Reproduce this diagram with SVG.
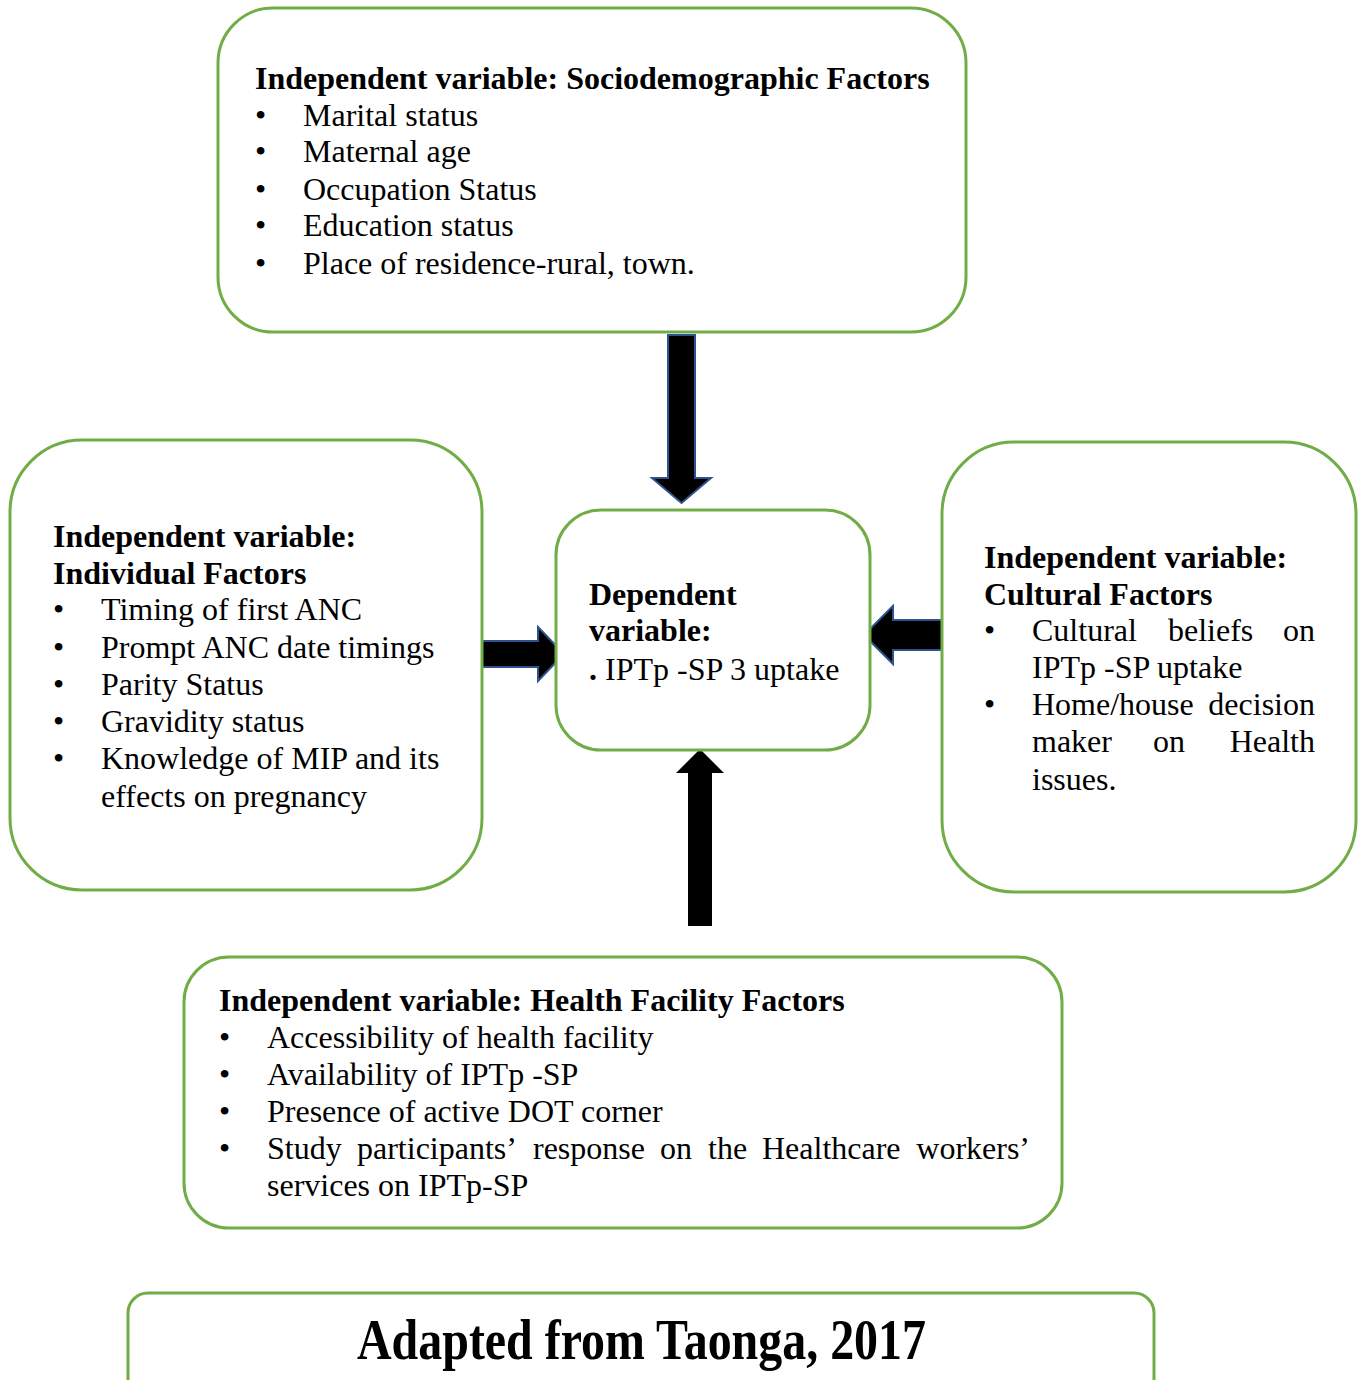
<svg xmlns="http://www.w3.org/2000/svg" width="1363" height="1380" viewBox="0 0 1363 1380">
<style>
.box{fill:#fff;stroke:#70AD47;stroke-width:3}
text{font-family:"Liberation Serif","Times New Roman",serif;font-size:32px;fill:#000}
.b{font-weight:bold}
.arr{fill:#000;stroke:#2F528F;stroke-width:2;stroke-linejoin:miter}
</style>
<rect width="1363" height="1380" fill="#fff"/>
<g id="connectors">
<polygon class="arr" points="668,335 695,335 695,478 711,478 681.5,503 652,478 668,478"/>
<polygon class="arr" points="481,641 538,641 538,627 564,654 538,681 538,667 481,667"/>
<polygon class="arr" points="942,620 893,620 893,606 864,635 893,664 893,650 942,650"/>
<polygon fill="#000" points="688,926 712,926 712,773 724,773 700,749 676,773 688,773"/>
</g>
<g id="sociodemographic">
<rect class="box" x="218" y="8" width="748" height="324" rx="55"/>
<text class="b" x="255" y="89">Independent variable: Sociodemographic Factors</text>
<text x="255" y="126">•</text><text x="303" y="126">Marital status</text>
<text x="255" y="162">•</text><text x="303" y="162">Maternal age</text>
<text x="255" y="200">•</text><text x="303" y="200">Occupation Status</text>
<text x="255" y="236">•</text><text x="303" y="236">Education status</text>
<text x="255" y="274">•</text><text x="303" y="274">Place of residence-rural, town.</text>
</g>
<g id="individual">
<rect class="box" x="10" y="440" width="472" height="450" rx="72"/>
<text class="b" x="53" y="547">Independent variable:</text>
<text class="b" x="53" y="584">Individual Factors</text>
<text x="53" y="620">•</text><text x="101" y="620">Timing of first ANC</text>
<text x="53" y="658">•</text><text x="101" y="658">Prompt ANC date timings</text>
<text x="53" y="695">•</text><text x="101" y="695">Parity Status</text>
<text x="53" y="732">•</text><text x="101" y="732">Gravidity status</text>
<text x="53" y="769">•</text><text x="101" y="769">Knowledge of MIP and its</text>
<text x="101" y="807">effects on pregnancy</text>
</g>
<g id="dependent">
<rect class="box" x="556" y="510" width="314" height="240" rx="45"/>
<text class="b" x="589" y="605">Dependent</text>
<text class="b" x="589" y="641">variable:</text>
<text x="589" y="680"><tspan class="b">.</tspan> IPTp -SP 3 uptake</text>
</g>
<g id="cultural">
<rect class="box" x="942" y="442" width="414" height="450" rx="72"/>
<text class="b" x="984" y="568">Independent variable:</text>
<text class="b" x="984" y="605">Cultural Factors</text>
<text x="984" y="641">•</text>
<text x="1032" y="641">Cultural</text><text x="1168" y="641">beliefs</text><text x="1315" y="641" text-anchor="end">on</text>
<text x="1032" y="678">IPTp -SP uptake</text>
<text x="984" y="715">•</text>
<text x="1032" y="715">Home/house</text><text x="1315" y="715" text-anchor="end">decision</text>
<text x="1032" y="752">maker</text><text x="1153" y="752">on</text><text x="1315" y="752" text-anchor="end">Health</text>
<text x="1032" y="790">issues.</text>
</g>
<g id="healthfacility">
<rect class="box" x="184" y="957" width="878" height="271" rx="45"/>
<text class="b" x="219" y="1011">Independent variable: Health Facility Factors</text>
<text x="219" y="1048">•</text><text x="267" y="1048">Accessibility of health facility</text>
<text x="219" y="1085">•</text><text x="267" y="1085">Availability of IPTp -SP</text>
<text x="219" y="1122">•</text><text x="267" y="1122">Presence of active DOT corner</text>
<text x="219" y="1159">•</text>
<text x="267" y="1159">Study</text><text x="357" y="1159">participants’</text><text x="533" y="1159">response</text><text x="660" y="1159">on</text><text x="708" y="1159">the</text><text x="762" y="1159">Healthcare</text><text x="1030" y="1159" text-anchor="end">workers’</text>
<text x="267" y="1196">services on IPTp-SP</text>
</g>
<g id="caption">
<rect class="box" x="128" y="1293" width="1026" height="110" rx="20"/>
<text class="b" x="357" y="1359" textLength="569" lengthAdjust="spacingAndGlyphs" style="font-size:57px">Adapted from Taonga, 2017</text>
</g>
</svg>
